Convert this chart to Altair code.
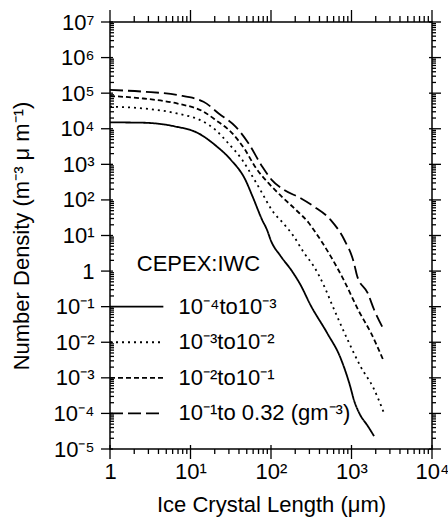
import altair as alt
import pandas as pd
import json

FONT = "Liberation Sans"

# ---- data (crystal length in um, number density) ----
series_names = ["10⁻⁴to10⁻³", "10⁻³to10⁻²", "10⁻²to10⁻¹", "10⁻¹to 0.32 (gm⁻³)"]

L_1 = [1, 2.51, 6.31, 12.6, 20.0, 31.6, 47.9, 58.9, 77.6, 89.1, 100, 132, 182, 234, 309, 501, 724, 933, 1096, 1288, 1585, 1905]
N_1 = [15100, 14800, 11700, 7400, 3550, 1350, 372, 126, 27.5, 14.5, 7.1, 2.63, 1.0, 0.40, 0.112, 0.0178, 0.0038, 7.4e-4, 2.04e-4, 8.9e-5, 4.5e-5, 2.3e-5]

L_2 = [1, 2.6, 6.78, 14.5, 20.4, 29.5, 43.7, 58.9, 77.6, 102, 145, 191, 257, 339, 457, 575, 891, 1288, 1905, 2512]
N_2 = [41700, 37200, 26900, 15800, 9330, 3890, 1350, 457, 155, 52.5, 20.9, 9.55, 3.24, 1.38, 0.38, 0.112, 0.0120, 0.00214, 4.79e-4, 1.07e-4]

L_3 = [1, 2.6, 6.78, 14.5, 20.4, 33.1, 47.9, 63.1, 93.3, 135, 204, 295, 339, 550, 813, 1230, 1738, 2512]
N_3 = [83200, 70800, 51300, 30200, 17800, 7410, 2510, 871, 295, 126, 52.5, 22.4, 14.5, 2.63, 0.525, 0.0759, 0.0186, 0.00295]

L_4 = [1, 2.6, 6.78, 14.5, 22.4, 36.3, 52.5, 77.6, 102, 145, 234, 339, 550, 813, 1072, 1175, 1585, 1905, 2512]
N_4 = [123000, 110000, 89100, 57500, 26900, 11500, 3890, 871, 367, 191, 112, 66.1, 27.5, 7.59, 1.70, 0.724, 0.245, 0.0832, 0.0229]

# legend entries (placed inside the plot in data space)
legend_y = [1e-1, 1e-2, 1e-3, 1e-4]
legend_x0 = 1
legend_x1 = 4.6
legend_text_x = 7.1
legend_title = "CEPEX:IWC"
legend_title_x = 2.15
legend_title_y = 1

x_tick_labels = ["1", "10¹", "10²", "10³", "10⁴"]
y_tick_labels = ["10⁻⁵", "10⁻⁴", "10⁻³", "10⁻²", "10⁻¹", "1", "10¹", "10²", "10³", "10⁴", "10⁵", "10⁶", "10⁷"]

dash_range = [[1, 0], [2, 4], [5, 3], [13, 5]]

rows = []
for name, Ls, Ns in zip(series_names, [L_1, L_2, L_3, L_4], [N_1, N_2, N_3, N_4]):
    for l, n in zip(Ls, Ns):
        rows.append({"series": name, "L": l, "N": n})
df = pd.DataFrame(rows)

leg = pd.DataFrame({"series": series_names, "y": legend_y,
                    "x0": [legend_x0] * 4, "x1": [legend_x1] * 4,
                    "tx": [legend_text_x] * 4})
title_df = pd.DataFrame({"t": [legend_title], "x": [legend_title_x], "y": [legend_title_y]})

x_major = [10 ** e for e in range(0, 5)]
y_major = [10.0 ** e for e in range(-5, 8)]
x_minor = [m * 10 ** e for e in range(0, 4) for m in range(2, 10)]
y_minor = [m * 10.0 ** e for e in range(-5, 7) for m in range(2, 10)]

W, H = 322, 427

x_label_expr = f"{json.dumps(x_tick_labels, ensure_ascii=False)}[round(log(datum.value)/LN10)]"
y_label_expr = f"{json.dumps(y_tick_labels, ensure_ascii=False)}[round(log(datum.value)/LN10) + 5]"

x_scale = alt.Scale(type="log", domain=[1, 1e4], nice=False)
y_scale = alt.Scale(type="log", domain=[1e-5, 1e7], nice=False)
dash_scale = alt.Scale(domain=series_names, range=dash_range)

common_axis = dict(domain=False, ticks=True, tickOpacity=0, tickSize=10,
                   labelFont=FONT, labelFontSize=22, labelColor="black",
                   titleFont=FONT, titleFontSize=22, titleFontWeight="normal", titleColor="black",
                   labelOverlap=False, labelFlush=False, grid=False)

lines = alt.Chart(df).mark_line(color="black", strokeWidth=1.8, interpolate="monotone").encode(
    x=alt.X("L:Q", scale=x_scale,
            axis=alt.Axis(values=x_major, orient="bottom", labelExpr=x_label_expr, labelPadding=2,
                          title="Ice Crystal Length (μm)", titlePadding=12, **common_axis)),
    y=alt.Y("N:Q", scale=y_scale,
            axis=alt.Axis(values=y_major, orient="left", labelExpr=y_label_expr, labelPadding=6,
                          title="Number Density (m⁻³ μ m⁻¹)", titlePadding=20, **common_axis)),
    strokeDash=alt.StrokeDash("series:N", scale=dash_scale, legend=None),
)

# tick marks drawn as rules at the scale positions of the tick values
xt_major = pd.DataFrame({"v": x_major})
xt_minor = pd.DataFrame({"v": x_minor})
yt_major = pd.DataFrame({"v": y_major})
yt_minor = pd.DataFrame({"v": y_minor})

def xticks(data, y0, y1):
    return alt.Chart(data).mark_rule(color="black", strokeWidth=1.3).encode(
        x=alt.X("v:Q", scale=x_scale, axis=None), y=alt.value(y0), y2=alt.value(y1))

def yticks(data, x0, x1):
    return alt.Chart(data).mark_rule(color="black", strokeWidth=1.3).encode(
        y=alt.Y("v:Q", scale=y_scale, axis=None), x=alt.value(x0), x2=alt.value(x1))

tick_layers = [
    xticks(xt_major, H - 4, H + 10), xticks(xt_minor, H, H + 5),
    xticks(xt_major, 0, -12), xticks(xt_minor, 0, -6),
    yticks(yt_major, -9, 3), yticks(yt_minor, 0, 4),
    yticks(yt_major, W - 3, W + 9), yticks(yt_minor, W, W + 4),
]

leg_lines = alt.Chart(leg).mark_rule(color="black", strokeWidth=1.8).encode(
    x=alt.X("x0:Q", scale=x_scale, axis=None), x2="x1:Q",
    y=alt.Y("y:Q", scale=y_scale, axis=None),
    strokeDash=alt.StrokeDash("series:N", scale=dash_scale, legend=None),
)
leg_text = alt.Chart(leg).mark_text(align="left", baseline="middle", font=FONT, fontSize=22, color="black").encode(
    x=alt.X("tx:Q", scale=x_scale, axis=None), y=alt.Y("y:Q", scale=y_scale, axis=None), text="series:N",
)
leg_title = alt.Chart(title_df).mark_text(align="left", baseline="alphabetic", font=FONT, fontSize=22, color="black").encode(
    x=alt.X("x:Q", scale=x_scale, axis=None), y=alt.Y("y:Q", scale=y_scale, axis=None), text="t:N",
)

chart = alt.layer(lines, *tick_layers, leg_lines, leg_text, leg_title).resolve_axis(
    x="independent", y="independent"
).properties(
    width=W, height=H, autosize="none",
    padding={"left": 110, "top": 22, "right": 16, "bottom": 76},
    background="white",
).configure_view(stroke="black", strokeWidth=1.5)

chart.save("out.html", embed_options={"renderer": "svg", "actions": False})
